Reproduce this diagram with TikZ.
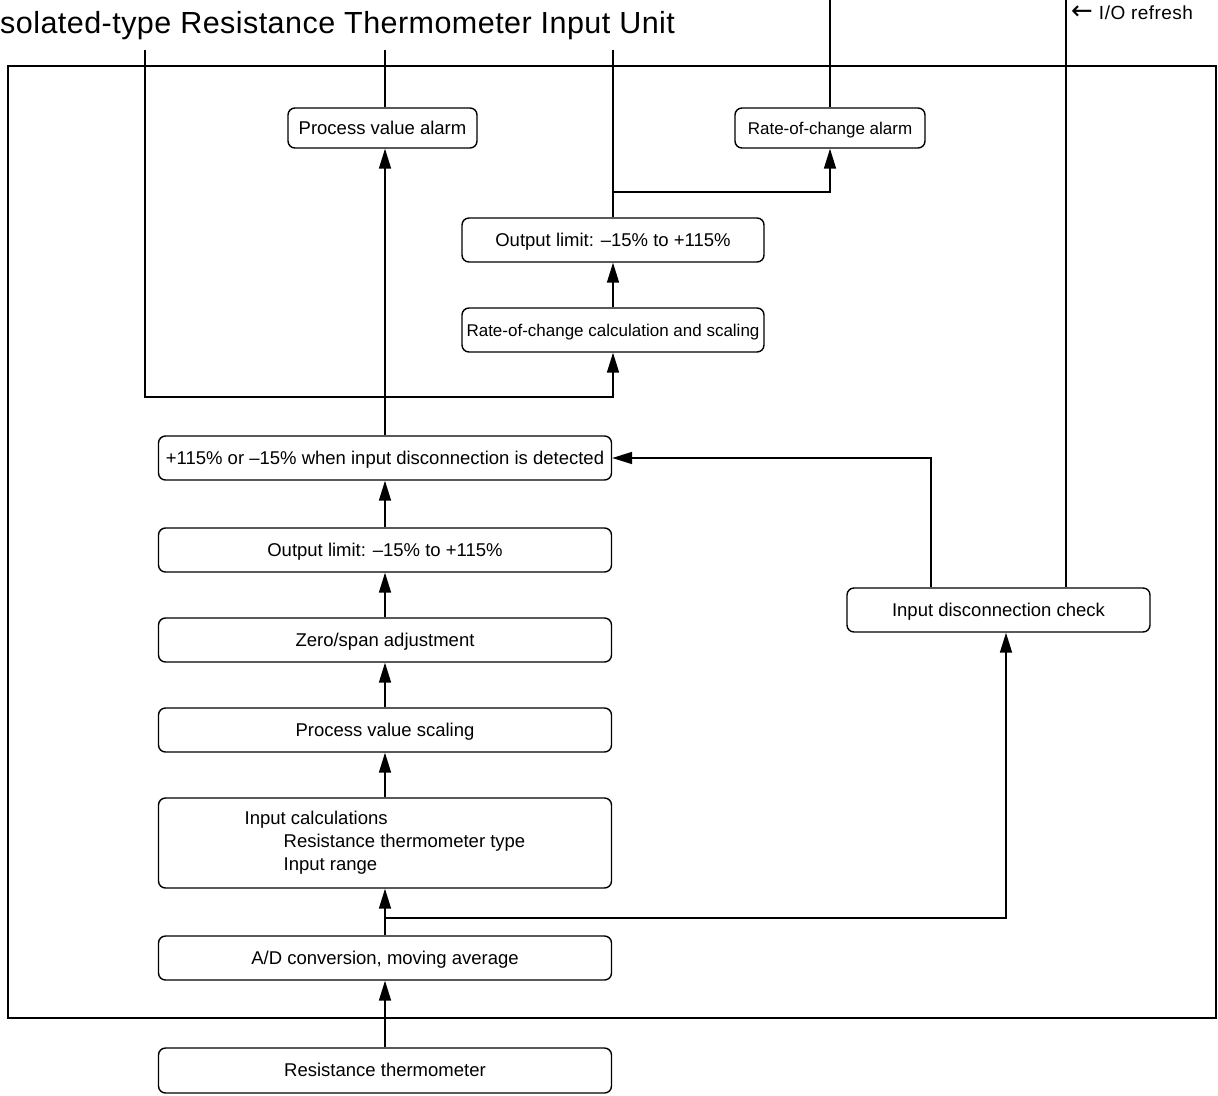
\documentclass[tikz,border=0pt]{standalone}
\usepackage{fontspec}
\setmainfont{Liberation Sans}
\newfontfamily\arrowfont{DejaVu Sans}
\usetikzlibrary{arrows.meta}
\begin{document}
\begin{tikzpicture}[x=1pt,y=-1pt,
  box/.style={draw, rounded corners=7pt, inner sep=0pt, line width=1.4pt,
    minimum height=44pt, font=\fontsize{18.5}{23}\selectfont},
  one/.style={text height=14pt, text depth=2pt},
  wide/.style={box, minimum width=453pt},
  small/.style={font=\fontsize{17}{20}\selectfont},
  arr/.style={-{Triangle[length=20pt,width=12pt]}, line width=1.7pt},
  ln/.style={line width=1.7pt}]
\useasboundingbox (0,0) rectangle (1218,1095);

% title and frame
\node[anchor=base west, inner sep=0pt, font=\fontsize{30.5}{34}\selectfont\addfontfeatures{LetterSpace=1.5}] (title) at (0,33)
  {solated-type Resistance Thermometer Input Unit};
\node[draw, line width=1.5pt, minimum width=1208pt, minimum height=952pt, inner sep=0pt] (frame) at (612,542) {};
\node[anchor=base west, inner sep=0pt, font=\fontsize{19}{20}\selectfont] (iolabel) at (1071,19)
  {{\arrowfont\fontsize{26}{26}\selectfont ←}\hspace{6pt}{\addfontfeatures{LetterSpace=2.5}I/O refresh}};

% boxes
\node[box, one, minimum width=189pt, minimum height=40pt] (pva) at (382.5,128) {Process value alarm};
\node[box, one, small, minimum width=190pt, minimum height=40pt] (rca) at (830,128) {Rate-of-change alarm};
\node[box, one, minimum width=302pt] (ol2) at (613,240) {Output limit: –15\% to +115\%};
\node[box, one, small, minimum width=302pt] (rcc) at (613,330) {Rate-of-change calculation and scaling};
\node[wide, one] (det) at (385,458) {+115\% or –15\% when input disconnection is detected};
\node[wide, one] (ol1) at (385,550) {Output limit: –15\% to +115\%};
\node[wide, one] (zs) at (385,640) {Zero/span adjustment};
\node[wide, one] (pvs) at (385,730) {Process value scaling};
\node[wide, minimum height=90pt, align=left] (ic) at (385,843)
  {Input calculations\\\hspace*{39pt}Resistance thermometer type\\\hspace*{39pt}Input range};
\node[wide, one] (ad) at (385,958) {A/D conversion, moving average};
\node[wide, one, minimum height=45pt] (rt) at (385,1070.5) {Resistance thermometer};
\node[box, one, minimum width=303pt] (idc) at (998.5,610) {Input disconnection check};

% coordinates
\coordinate (top50) at (0,50);
\coordinate (lp) at (145,50);
\coordinate (lb) at (145,397);
\coordinate (j1) at (385,918);
\coordinate (j2) at (613,192);
\coordinate (io) at (1066,0);
\coordinate (dj) at (931,458);

% connectors main column
\draw[arr] (rt.north) -- (ad.south);
\draw[arr] (ad.north) -- (ic.south);
\draw[arr] (j1) -| ([xshift=7.5pt]idc.south);
\draw[arr] (ic.north) -- (pvs.south);
\draw[arr] (pvs.north) -- (zs.south);
\draw[arr] (zs.north) -- (ol1.south);
\draw[arr] (ol1.north) -- (det.south);
\draw[arr] (det.north) -- (det.north |- pva.south);
\draw[ln] (det.north |- pva.north) -- (det.north |- top50);

% left loop and right column
\draw[arr] (lp) -- (lb) -| (rcc.south);
\draw[arr] (rcc.north) -- (ol2.south);
\draw[ln] (ol2.north) -- (ol2.north |- top50);
\draw[arr] (j2) -| (rca.south);
\draw[ln] (rca.north) -- (rca.north |- io);

% disconnection check
\draw[arr] (dj |- idc.north) -- (dj) -- (det.east);
\draw[ln] (io) -- (io |- idc.north);
\end{tikzpicture}
\end{document}
